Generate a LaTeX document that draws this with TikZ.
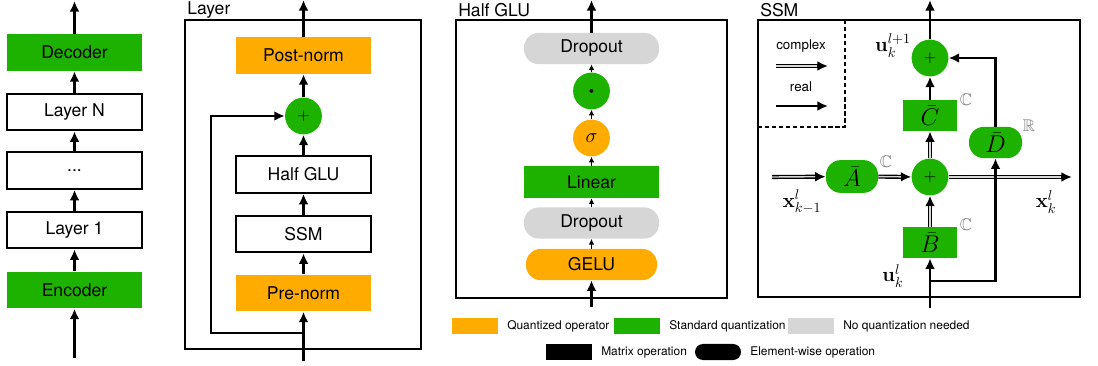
\documentclass[tikz,border=0pt]{standalone}
\usepackage[no-math]{fontspec}
\setmainfont{TeX Gyre Heros}
\usepackage{amsmath}
\usepackage{amssymb}
\usepackage{tikz}
\usetikzlibrary{arrows.meta}

\definecolor{quantorange}{RGB}{255,171,0}
\definecolor{stdgreen}{RGB}{30,178,0}
\definecolor{noqgray}{RGB}{214,214,214}
\definecolor{setgray}{RGB}{120,120,120}
\definecolor{gapgray}{RGB}{215,215,215}

\tikzset{
  blk/.style={rectangle, inner sep=0pt, minimum width=3.375cm, minimum height=0.92cm, font=\fontsize{12.5}{14}\selectfont},
  plain/.style={blk, draw, line width=1.3pt, fill=white},
  quant/.style={blk, fill=quantorange},
  stdq/.style={blk, fill=stdgreen},
  noq/.style={blk, fill=noqgray},
  pill/.style={rounded corners=0.37cm, minimum height=0.78cm},
  opcirc/.style={circle, fill=stdgreen, minimum size=0.92cm, inner sep=0pt, font=\fontsize{12}{12}\selectfont},
  mathbox/.style={font=\fontsize{16}{17}\selectfont},
  arr/.style={line width=1.6pt, -{Latex[length=7.5pt,width=7pt]}},
  tinyarr/.style={line width=1pt, -{Latex[length=4pt,width=4pt]}},
  dbl/.style={line width=2.9pt, -{Latex[length=7.5pt,width=7pt]},
    postaction={draw=gapgray, line width=1pt, shorten >=7.5pt, -}},
  frame/.style={draw, line width=1.5pt},
  ptitle/.style={anchor=west, inner sep=0pt, font=\fontsize{12.5}{14}\selectfont},
  legtxt/.style={anchor=west, inner sep=0pt, font=\fontsize{8.5}{10}\selectfont},
  swatch/.style={inner sep=0pt, minimum width=1.15cm, minimum height=0.4cm},
  setlbl/.style={inner sep=0pt, text=setgray, font=\fontsize{12}{14}\selectfont},
  varlbl/.style={inner sep=0pt, font=\fontsize{14.5}{16}\selectfont},
}

\begin{document}
\begin{tikzpicture}[x=0.025cm, y=-0.025cm]
  \useasboundingbox (0,0) rectangle (1098,366);

  % model stack
  \node[stdq] (dec) at (74.5,52.5) {Decoder};
  \node[plain] (layN) at (74.5,112) {Layer N};
  \node[plain] (dots) at (74.5,170.5) {...};
  \node[plain] (lay1) at (74.5,230) {Layer 1};
  \node[stdq] (enc) at (74.5,290) {Encoder};
  \coordinate (encin) at (74.5,358);
  \coordinate (decout) at (74.5,1);
  \draw[arr] (encin) -- (enc);
  \draw[arr] (enc) -- (lay1);
  \draw[arr] (lay1) -- (dots);
  \draw[arr] (dots) -- (layN);
  \draw[arr] (layN) -- (dec);
  \draw[arr] (dec) -- (decout);

  % layer
  \draw[frame] (185,20) rectangle (421,349);
  \node[ptitle] (layttl) at (187,10) {Layer};
  \node[quant] (post) at (303.5,55.5) {Post-norm};
  \node[opcirc] (sum) at (303.5,116) {$+$};
  \node[plain] (glu) at (303.5,174.5) {Half GLU};
  \node[plain] (ssm) at (303.5,234) {SSM};
  \node[quant] (pre) at (303.5,293) {Pre-norm};
  \coordinate (layin) at (303.5,361);
  \coordinate (split) at (303.5,333);
  \coordinate (skip) at (211,333);
  \coordinate (layout) at (303.5,0);
  \draw[arr] (layin) -- (pre);
  \draw[arr] (pre) -- (ssm);
  \draw[arr] (ssm) -- (glu);
  \draw[arr] (glu) -- (sum);
  \draw[arr] (sum) -- (post);
  \draw[arr] (post) -- (layout);
  \draw[arr] (split) -- (skip) |- (sum.west);

  % half glu
  \draw[frame] (456,20) rectangle (727,298);
  \node[ptitle] (gluttl) at (458,10) {Half GLU};
  \node[noq, pill] (drop2) at (591.5,48.5) {Dropout};
  \node[opcirc, font=\fontsize{6}{6}\selectfont] (mul) at (591.5,91) {$\bullet$};
  \node[opcirc, fill=quantorange, font=\fontsize{15}{15}\selectfont] (sig) at (591.5,138) {$\sigma$};
  \node[stdq, minimum height=0.8cm] (lin) at (591.5,182) {Linear};
  \node[noq, pill] (drop1) at (591.5,223) {Dropout};
  \node[quant, pill, minimum width=3.275cm] (gelu) at (591.5,264.5) {GELU};
  \coordinate (gluin) at (591.5,307);
  \coordinate (gluout) at (591.5,0);
  \draw[arr] (gluin) -- (gelu);
  \draw[tinyarr] (gelu) -- (drop1);
  \draw[tinyarr] (drop1) -- (lin);
  \draw[tinyarr] (lin) -- (sig);
  \draw[tinyarr] (sig) -- (mul);
  \draw[tinyarr] (mul) -- (drop2);
  \draw[arr] (drop2) -- (gluout);

  % ssm
  \draw[frame] (758,20) rectangle (1080,297);
  \node[ptitle] (ssmttl) at (760,10) {SSM};
  \draw[line width=1.3pt, dash pattern=on 3pt off 2pt] (758,127) -- (845,127) -- (845,20);
  \node[font=\fontsize{9.5}{11}\selectfont] (cplx) at (801,46) {complex};
  \node[font=\fontsize{9.5}{11}\selectfont] (rl) at (801,87) {real};
  \coordinate (cplxa) at (776,66);
  \coordinate (cplxb) at (828,66);
  \coordinate (rla) at (776,106);
  \coordinate (rlb) at (828,106);
  \draw[dbl] (cplxa) -- (cplxb);
  \draw[arr] (rla) -- (rlb);

  \node[opcirc] (sumtop) at (930,58) {$+$};
  \node[stdq, mathbox, minimum width=1.35cm, minimum height=0.78cm] (Cb) at (930,115.5) {$\bar{C}$};
  \node[opcirc] (summid) at (930,177) {$+$};
  \node[stdq, mathbox, minimum width=1.35cm, minimum height=0.78cm] (Bb) at (930,242.5) {$\bar{B}$};
  \node[stdq, pill, mathbox, minimum width=1.325cm] (Db) at (995.5,142.5) {$\bar{D}$};
  \node[stdq, pill, mathbox, minimum width=1.3cm, minimum height=0.82cm] (Ab) at (852,176.5) {$\bar{A}$};
  \coordinate (xin) at (772,177);
  \coordinate (xout) at (1072,177);
  \coordinate (uin) at (930,308);
  \coordinate (ubr) at (930,281);
  \coordinate (ssmout) at (930,0);
  \draw[dbl] (xin) -- (Ab);
  \draw[dbl] (Ab) -- (summid);
  \draw[dbl] (summid) -- (xout);
  \draw[dbl] (summid) -- (Cb);
  \draw[dbl] (Bb) -- (summid);
  \draw[arr] (Cb) -- (sumtop);
  \draw[arr] (uin) -- (Bb);
  \draw[arr] (ubr) -| (Db);
  \draw[arr] (Db) |- (sumtop);
  \draw[arr] (sumtop) -- (ssmout);

  \node[setlbl] (setA) at (886,162) {$\mathbb{C}$};
  \node[setlbl] (setC) at (966,100) {$\mathbb{C}$};
  \node[setlbl] (setB) at (966,225) {$\mathbb{C}$};
  \node[setlbl] (setD) at (1029,126) {$\mathbb{R}$};
  \node[varlbl] (xprev) at (802,202) {$\mathbf{x}^{l}_{k-1}$};
  \node[varlbl] (xnext) at (1046,202) {$\mathbf{x}^{l}_{k}$};
  \node[varlbl] (unext) at (893,46) {$\mathbf{u}^{l+1}_{k}$};
  \node[varlbl] (ucur) at (893,276) {$\mathbf{u}^{l}_{k}$};

  % legend
  \node[swatch, fill=quantorange] (legq) at (475,326) {};
  \node[legtxt] (legqt) at (507,326) {Quantized operator};
  \node[swatch, fill=stdgreen] (legs) at (637,326) {};
  \node[legtxt] (legst) at (669,326) {Standard quantization};
  \node[swatch, fill=noqgray] (legn) at (811,326) {};
  \node[legtxt] (legnt) at (843,326) {No quantization needed};
  \node[swatch, fill=black] (legm) at (569,352) {};
  \node[legtxt] (legmt) at (601,352) {Matrix operation};
  \node[swatch, fill=black, rounded corners=0.2cm] (lege) at (718,352) {};
  \node[legtxt] (leget) at (750,352) {Element-wise operation};
\end{tikzpicture}
\end{document}
